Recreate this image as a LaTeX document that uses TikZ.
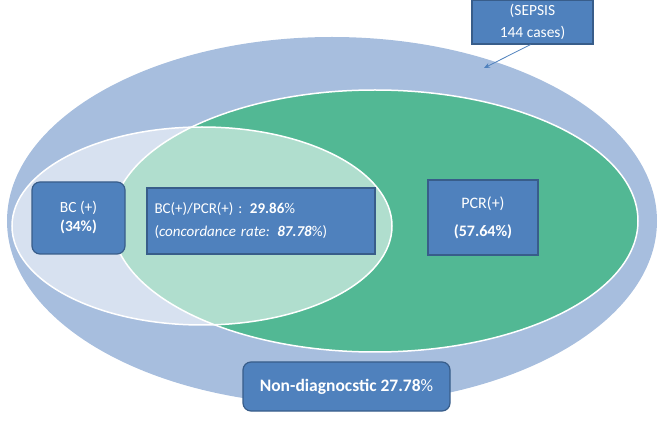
\documentclass[tikz,border=0pt]{standalone}
\usepackage{fontspec}
\setmainfont{Carlito}
\usetikzlibrary{arrows.meta}
\definecolor{outerblue}{RGB}{167,190,222}
\definecolor{pcrgreen}{RGB}{82,184,148}
\definecolor{boxblue}{RGB}{79,129,189}
\definecolor{boxedge}{RGB}{56,93,138}
\begin{document}
\begin{tikzpicture}[x=1pt,y=-1pt,
  infobox/.style={draw=boxedge,line width=1.2pt,fill=boxblue,text=white,align=center,inner sep=0pt},
  roundbox/.style={infobox,rounded corners=8pt}]
\useasboundingbox (0,0) rectangle (662,422);
% outer ellipse (sepsis)
\fill[outerblue] (332,221) ellipse [x radius=325, y radius=184];
% PCR ellipse
\draw[white,line width=1.5pt,fill=pcrgreen] (375,221) ellipse [x radius=263, y radius=131];
% BC ellipse
\draw[white,line width=1.5pt,fill=white,fill opacity=0.55] (202,226) ellipse [x radius=190, y radius=99];
% boxes
\node[infobox,minimum width=121pt,minimum height=44pt,font=\fontsize{15.5}{22}\selectfont] (sepsis) at (532.5,22) {(SEPSIS\\144 cases)};
\coordinate (edge) at (484,68);
\draw[boxblue,line width=0.8pt,-{Stealth[length=6pt,width=5pt]}] (sepsis.south) ++(-2,0) -- (edge);
\node[roundbox,minimum width=93pt,minimum height=72pt,font=\fontsize{15.5}{19}\selectfont] (bc) at (78.5,218) {BC (+)\\\textbf{(34\%)}};
\node[infobox,minimum width=228pt,minimum height=66pt,font=\fontsize{15}{23}\selectfont,align=left,text width=213pt,inner xsep=7.5pt] (both) at (261,221) {BC(+)/PCR(+) : \textbf{29.86}\%\\(\textit{concordance rate:} \textbf{\textit{87.78}}\%)};
\node[infobox,minimum width=110pt,minimum height=75pt,font=\fontsize{16}{28}\selectfont] (pcr) at (483,217.5) {PCR(+)\\\textbf{(57.64\%)}};
\node[roundbox,minimum width=207pt,minimum height=49pt,font=\fontsize{17.5}{20}\selectfont] (non) at (346.5,386.5) {\textbf{Non-diagnocstic 27.78}\%};
\end{tikzpicture}
\end{document}
